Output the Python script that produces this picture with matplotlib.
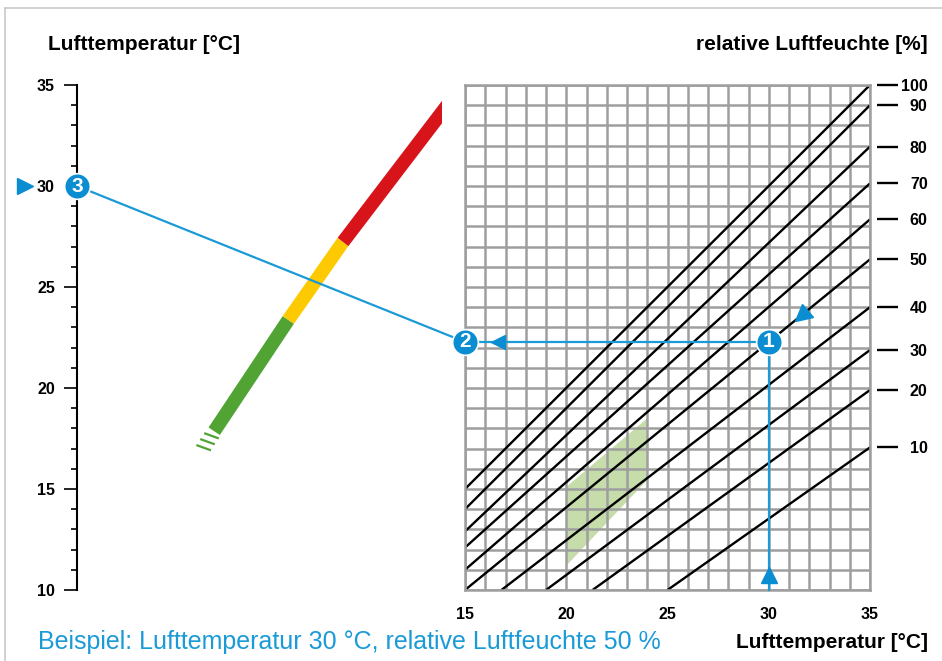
import numpy as np
import matplotlib
matplotlib.use("Agg")
import matplotlib.pyplot as plt
from matplotlib.markers import MarkerStyle
from matplotlib.transforms import Affine2D, offset_copy
from matplotlib.lines import Line2D
from matplotlib.patches import Polygon, Rectangle

# ---------------- data ----------------
rh_levels = [100, 90, 80, 70, 60, 50, 40, 30, 20, 10]
rh_start_x = [15, 15, 15, 15, 15, 15, 16.8, 19.0, 21.3, 25.0]
rh_start_y = [15.0, 14.0, 12.9, 12.1, 11.0, 10.0, 10.0, 10.0, 10.0, 10.0]
rh_end_x = [35, 35, 35, 35, 35, 35, 35, 35, 35, 35]
rh_end_y = [35.0, 34.0, 31.95, 30.13, 28.35, 26.37, 24.0, 21.88, 19.9, 17.06]

temp_major_ticks = [10, 15, 20, 25, 30, 35]
grid_x_ticks = [15, 20, 25, 30, 35]

comfort_x = [20, 24, 24, 20]
comfort_y = [15.1, 18.5, 15.45, 11.2]

example_temp = 30
example_rh = 50

# coloured evaluation bar (centre line, in grid units)
bar_x = [2.615, 6.274, 8.975, 13.85]
bar_y = [17.86, 23.37, 27.23, 33.64]
bar_colors = ["#51a433", "#fdc900", "#d8141b"]
stripe_x = [2.481, 2.284, 2.096]
stripe_y = [17.634, 17.342, 17.045]

# ---------------- style ----------------
BLUE = "#1a9ad7"
BLUE_DARK = "#0b8dd2"
GRID = "#9e9e9e"
FONT = ["Liberation Sans", "DejaVu Sans"]
plt.rcParams["font.family"] = FONT

W, H = 942, 661
fig = plt.figure(figsize=(W / 100, H / 100), dpi=100)


def fbox(x0, y0, x1, y1):
    return [x0 / W, 1 - y1 / H, (x1 - x0) / W, (y1 - y0) / H]


# ---- left temperature scale ----
axl = fig.add_axes(fbox(77, 85, 78, 590))
axl.set_zorder(-1)
axl.set_xlim(0, 1)
axl.set_ylim(10, 35)
axl.set_yticks(temp_major_ticks)
axl.set_yticklabels([str(v) for v in temp_major_ticks])
axl.set_yticks(np.arange(10, 36, 1), minor=True)
axl.set_xticks([])
for k in ["top", "right", "bottom"]:
    axl.spines[k].set_visible(False)
axl.spines["left"].set_linewidth(1.5)
axl.patch.set_visible(False)
axl.tick_params(axis="y", which="major", length=9.4, width=1.2, pad=6.5, labelsize=11.5)
axl.tick_params(axis="y", which="minor", length=4.4, width=1.2)
for lab in axl.get_yticklabels():
    lab.set_fontweight("bold")

# ---- main grid axes ----
ax = fig.add_axes(fbox(465, 85, 870, 590))
ax.set_xlim(15, 35)
ax.set_ylim(10, 35)
ax.set_xticks(grid_x_ticks)
ax.set_xticklabels([str(v) for v in grid_x_ticks])
ax.set_xticks(np.arange(15, 36, 1), minor=True)
ax.set_yticks(np.arange(10, 36, 1))
ax.grid(True, which="both", color=GRID, lw=1.8)
ax.set_axisbelow(True)
ax.tick_params(axis="x", which="both", length=0, pad=12, labelsize=11.5)
for lab in ax.get_xticklabels():
    lab.set_fontweight("bold")
for s in ax.spines.values():
    s.set_color(GRID)
    s.set_linewidth(1.8)

# comfort zone
ax.add_patch(Polygon(np.column_stack([comfort_x, comfort_y]), closed=True,
                     facecolor="#c6dcab", edgecolor="none", zorder=0.2))

# relative humidity lines
for sx, sy, ex, ey in zip(rh_start_x, rh_start_y, rh_end_x, rh_end_y):
    ax.plot([sx, ex], [sy, ey], color="black", lw=1.7, solid_capstyle="butt", zorder=2)

# ---- right RH scale (twin axis) ----
axr = ax.twinx()
axr.set_ylim(10, 35)
axr.set_yticks(rh_end_y)
axr.set_yticklabels([str(v) for v in rh_levels])
for s in axr.spines.values():
    s.set_visible(False)
axr.spines["right"].set_position(("outward", 5))
axr.tick_params(axis="y", direction="out", length=15, width=1.7, pad=21.5,
                labelsize=11.5, colors="black")
for lab in axr.get_yticklabels():
    lab.set_fontweight("bold")
    lab.set_horizontalalignment("right")
# twinx re-enables left ticks on the main axes: hide them again
ax.tick_params(axis="y", which="both", left=False, labelleft=False,
               right=False, labelright=False)

# ---- example construction ----
i50 = rh_levels.index(example_rh)
y1 = float(np.interp(example_temp, [rh_start_x[i50], rh_end_x[i50]],
                     [rh_start_y[i50], rh_end_y[i50]]))
x_left = ax.transData.inverted().transform(axl.transData.transform((0, example_temp)))[0]

P1 = (example_temp, y1)
P2 = (15, y1)
P3 = (x_left, example_temp)

# coloured bar
for k, col in enumerate(bar_colors):
    xs = [bar_x[k], bar_x[k + 1]]
    ys = [bar_y[k], bar_y[k + 1]]
    last = k == len(bar_colors) - 1
    if last:
        d = np.array([xs[1] - xs[0], ys[1] - ys[0]])
        d = d / np.hypot(*d)
        xs[1] += d[0] * 0.6
        ys[1] += d[1] * 0.6
    ln, = ax.plot(xs, ys, color=col, lw=9.8, solid_capstyle="butt", clip_on=False, zorder=3)
    if last:
        ln.set_clip_on(True)
        ln.set_clip_path(Rectangle((-20, 0), 20 + bar_x[-1], 60, transform=ax.transData))
half = np.array([0.36, -0.13])
for cx, cy in zip(stripe_x, stripe_y):
    ax.plot([cx - half[0], cx + half[0]], [cy - half[1], cy + half[1]],
            color=bar_colors[0], lw=1.6, solid_capstyle="butt", clip_on=False, zorder=3)

# blue guide lines
ax.plot([example_temp, example_temp], [10, y1], color=BLUE, lw=1.6, zorder=4, clip_on=False)
ax.plot([P1[0], P2[0]], [P1[1], P2[1]], color=BLUE, lw=1.6, zorder=4, clip_on=False)
ax.plot([P2[0], P3[0]], [P2[1], P3[1]], color=BLUE, lw=1.6, zorder=4, clip_on=False)

# arrow heads
t_up = offset_copy(ax.transData, fig=fig, x=0, y=15, units="dots")
ax.plot([example_temp], [10], marker="^", ms=11, color=BLUE_DARK, transform=t_up,
        clip_on=False, zorder=5)
t_left = offset_copy(ax.transData, fig=fig, x=33, y=0, units="dots")
ax.plot([P2[0]], [P2[1]], marker="<", ms=10.5, color=BLUE_DARK, transform=t_left,
        clip_on=False, zorder=5)
t_far = offset_copy(ax.transData, fig=fig, x=-52, y=0, units="dots")
ax.plot([P3[0]], [P3[1]], marker=">", ms=12, color=BLUE_DARK, transform=t_far,
        clip_on=False, zorder=5)

arrow_x = 31.6
arrow_y = float(np.interp(arrow_x, [rh_start_x[i50], rh_end_x[i50]],
                          [rh_start_y[i50], rh_end_y[i50]]))
p_a = ax.transData.transform((rh_start_x[i50], rh_start_y[i50]))
p_b = ax.transData.transform((rh_end_x[i50], rh_end_y[i50]))
ang = np.degrees(np.arctan2(p_b[1] - p_a[1], p_b[0] - p_a[0])) + 180
ax.plot([arrow_x], [arrow_y], marker=MarkerStyle(">", transform=Affine2D().rotate_deg(ang)),
        ms=12, color=BLUE_DARK, clip_on=False, zorder=5, lw=0)

# numbered circles
for num, (px, py) in zip(["1", "2", "3"], [P1, P2, P3]):
    ax.plot([px], [py], marker="o", ms=18.5, mfc=BLUE_DARK, mec="white", mew=1.2,
            clip_on=False, zorder=6)
    ax.text(px, py, num, color="white", fontsize=15, fontweight="bold",
            ha="center", va="center", zorder=7, clip_on=False)

# ---- texts ----
fig.text(48 / W, 1 - 45 / H, "Lufttemperatur [°C]", fontsize=15, fontweight="bold",
         ha="left", va="center")
fig.text(928 / W, 1 - 45 / H, "relative Luftfeuchte [%]", fontsize=15, fontweight="bold",
         ha="right", va="center")
fig.text(928 / W, 1 - 642 / H, "Lufttemperatur [°C]", fontsize=15, fontweight="bold",
         ha="right", va="center")
fig.text(38 / W, 1 - 642 / H,
         f"Beispiel: Lufttemperatur {example_temp} °C, relative Luftfeuchte {example_rh} %",
         fontsize=18, color=BLUE, ha="left", va="center")

# frame
fig.add_artist(Line2D([5 / W, 5 / W], [0, 1 - 8 / H], color="#c9c9c9", lw=1.2,
                      transform=fig.transFigure))
fig.add_artist(Line2D([5 / W, 1], [1 - 8 / H, 1 - 8 / H], color="#c9c9c9", lw=1.2,
                      transform=fig.transFigure))

fig.savefig("out.png", dpi=100)
